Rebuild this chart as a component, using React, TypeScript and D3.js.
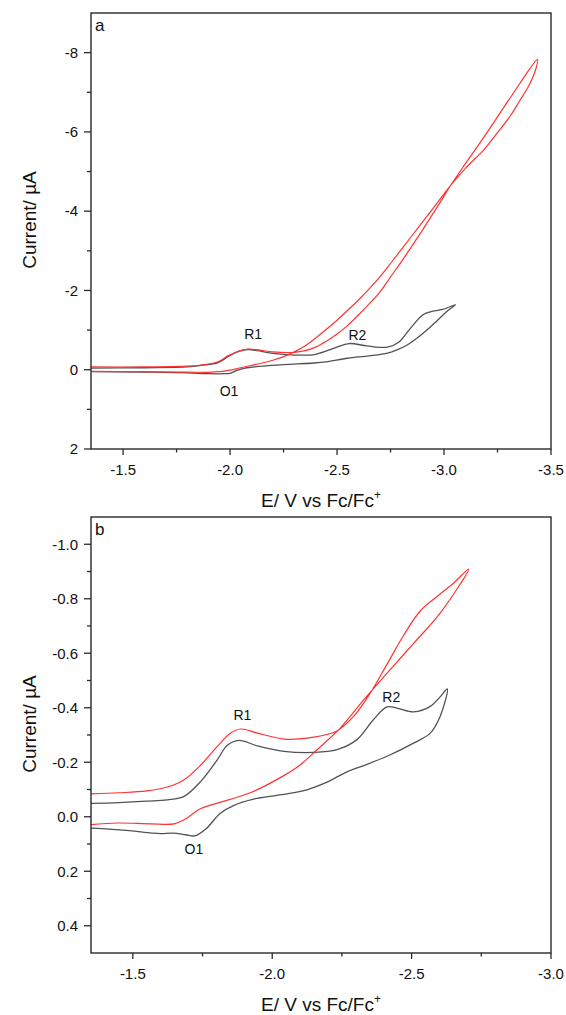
import React from 'react';
import * as d3 from 'd3';

type P = [number, number];

// ---------- Panel a data (E in V vs Fc/Fc+, current in µA) ----------
const aBlackForward: P[] = [
  [-1.35, -0.04], [-1.6, -0.05], [-1.8, -0.07], [-1.866, -0.11], [-1.944, -0.18], [-1.99, -0.33],
  [-2.04, -0.46], [-2.084, -0.51], [-2.13, -0.48], [-2.2, -0.41], [-2.3, -0.37], [-2.4, -0.39],
  [-2.49, -0.55], [-2.556, -0.66], [-2.64, -0.6], [-2.736, -0.57], [-2.79, -0.7], [-2.836, -1.0],
  [-2.9, -1.38], [-2.936, -1.46], [-2.994, -1.52], [-3.054, -1.64],
];
const aBlackReverse: P[] = [
  [-3.054, -1.64], [-3.02, -1.5], [-2.97, -1.25], [-2.92, -1.0], [-2.87, -0.78], [-2.83, -0.63],
  [-2.78, -0.5], [-2.736, -0.42], [-2.65, -0.35], [-2.549, -0.29], [-2.45, -0.2], [-2.393, -0.17],
  [-2.25, -0.13], [-2.15, -0.09], [-2.07, -0.04], [-2.03, 0.02], [-2.0, 0.09], [-1.975, 0.1],
  [-1.9, 0.1], [-1.8, 0.08], [-1.6, 0.06], [-1.35, 0.05],
];
const aRedForward: P[] = [
  [-1.35, -0.07], [-1.6, -0.07], [-1.8, -0.09], [-1.866, -0.12], [-1.944, -0.2], [-1.99, -0.35],
  [-2.04, -0.47], [-2.084, -0.52], [-2.13, -0.5], [-2.2, -0.45], [-2.3, -0.44], [-2.35, -0.48],
  [-2.4, -0.57], [-2.45, -0.72], [-2.5, -0.9], [-2.55, -1.12], [-2.6, -1.38], [-2.65, -1.66],
  [-2.7, -1.96], [-2.75, -2.34], [-2.8, -2.72], [-2.85, -3.12], [-2.9, -3.53], [-2.95, -3.95],
  [-3.0, -4.38], [-3.032, -4.66], [-3.1, -5.2], [-3.188, -5.88], [-3.312, -6.88], [-3.437, -7.83],
];
const aRedReverse: P[] = [
  [-3.437, -7.83], [-3.43, -7.6], [-3.415, -7.38], [-3.39, -7.1], [-3.353, -6.78], [-3.312, -6.42],
  [-3.25, -5.98], [-3.188, -5.56], [-3.1, -5.08], [-3.032, -4.66], [-2.95, -4.08], [-2.85, -3.38],
  [-2.75, -2.68], [-2.7, -2.34], [-2.65, -2.04], [-2.6, -1.76], [-2.55, -1.5], [-2.5, -1.25],
  [-2.45, -1.02], [-2.4, -0.8], [-2.35, -0.6], [-2.3, -0.45], [-2.25, -0.33], [-2.2, -0.24],
  [-2.15, -0.17], [-2.1, -0.11], [-2.05, -0.05], [-2.0, 0.01], [-1.95, 0.05], [-1.9, 0.065],
  [-1.8, 0.06], [-1.6, 0.05], [-1.35, 0.04],
];

// ---------- Panel b data ----------
const bBlackForward: P[] = [
  [-1.35, -0.049], [-1.45, -0.052], [-1.55, -0.057], [-1.624, -0.062], [-1.684, -0.075],
  [-1.744, -0.13], [-1.803, -0.209], [-1.839, -0.262], [-1.881, -0.28], [-1.947, -0.26],
  [-2.043, -0.24], [-2.148, -0.236], [-2.232, -0.246], [-2.304, -0.283], [-2.363, -0.356],
  [-2.412, -0.403], [-2.45, -0.398], [-2.507, -0.385], [-2.567, -0.405], [-2.603, -0.441],
  [-2.628, -0.469],
];
const bBlackReverse: P[] = [
  [-2.628, -0.469], [-2.603, -0.37], [-2.567, -0.307], [-2.507, -0.27], [-2.412, -0.222],
  [-2.328, -0.188], [-2.268, -0.165], [-2.19, -0.124], [-2.125, -0.099], [-2.034, -0.081],
  [-1.93, -0.064], [-1.863, -0.042], [-1.814, -0.013], [-1.762, 0.045], [-1.723, 0.07],
  [-1.69, 0.066], [-1.645, 0.06], [-1.6, 0.062], [-1.567, 0.06], [-1.476, 0.05], [-1.35, 0.042],
];
const bRedForward: P[] = [
  [-1.35, -0.084], [-1.45, -0.088], [-1.55, -0.095], [-1.624, -0.109], [-1.684, -0.136],
  [-1.744, -0.19], [-1.803, -0.258], [-1.851, -0.307], [-1.887, -0.322], [-1.947, -0.307],
  [-2.043, -0.285], [-2.148, -0.292], [-2.232, -0.315], [-2.292, -0.368], [-2.352, -0.454],
  [-2.412, -0.56], [-2.471, -0.665], [-2.531, -0.755], [-2.591, -0.808], [-2.651, -0.858],
  [-2.705, -0.909],
];
const bRedReverse: P[] = [
  [-2.705, -0.909], [-2.603, -0.748], [-2.508, -0.637], [-2.412, -0.527], [-2.328, -0.429],
  [-2.244, -0.325], [-2.16, -0.245], [-2.1, -0.19], [-2.04, -0.15], [-1.921, -0.088],
  [-1.803, -0.05], [-1.744, -0.03], [-1.684, 0.011], [-1.648, 0.026], [-1.564, 0.026],
  [-1.444, 0.023], [-1.35, 0.029],
];

// ---------- Ticks ----------
const aXMajor = [-1.5, -2.0, -2.5, -3.0, -3.5];
const aXMinor = [-1.75, -2.25, -2.75, -3.25];
const aYMajor = [-8, -6, -4, -2, 0, 2];
const aYMinor = [-7, -5, -3, -1, 1];
const bXMajor = [-1.5, -2.0, -2.5, -3.0];
const bXMinor = [-1.75, -2.25, -2.75];
const bYMajor = [-1.0, -0.8, -0.6, -0.4, -0.2, 0.0, 0.2, 0.4];
const bYMinor = [-0.9, -0.7, -0.5, -0.3, -0.1, 0.1, 0.3];

// ---------- Peak labels (anchor = text baseline centre, in data units) ----------
const aPeakLabels: { t: string; e: number; i: number }[] = [
  { t: 'R1', e: -2.108, i: -0.78 },
  { t: 'R2', e: -2.595, i: -0.74 },
  { t: 'O1', e: -1.995, i: 0.675 },
];
const bPeakLabels: { t: string; e: number; i: number }[] = [
  { t: 'R1', e: -1.893, i: -0.355 },
  { t: 'R2', e: -2.427, i: -0.421 },
  { t: 'O1', e: -1.719, i: 0.137 },
];

const FONT = "'Liberation Sans', Arial, Helvetica, sans-serif";
const RED = '#ff3333';
const GRAY = '#525252';
const AXIS = '#2a2a2a';
const L = 91;
const R = 551;

interface PanelProps {
  id: string;
  letter: string;
  xDomain: [number, number];
  yDomain: [number, number];
  top: number;
  bottom: number;
  xMajor: number[];
  xMinor: number[];
  yMajor: number[];
  yMinor: number[];
  yFmt: (v: number) => string;
  black: P[];
  red: P[];
  peaks: { t: string; e: number; i: number }[];
}

function Panel(p: PanelProps) {
  const x = d3.scaleLinear().domain(p.xDomain).range([L, R]);
  const y = d3.scaleLinear().domain(p.yDomain).range([p.top, p.bottom]);
  const line = d3
    .line<P>()
    .x((d) => x(d[0]))
    .y((d) => y(d[1]))
    .curve(d3.curveCatmullRom.alpha(0.5));
  const midY = (p.top + p.bottom) / 2 - 11;
  return (
    <g>
      <defs>
        <clipPath id={`clip-${p.id}`}>
          <rect x={L} y={p.top} width={R - L} height={p.bottom - p.top} />
        </clipPath>
      </defs>
      <g clipPath={`url(#clip-${p.id})`}>
        <path d={line(p.black) || ''} fill="none" stroke={GRAY} strokeWidth={1.3} />
        <path d={line(p.red) || ''} fill="none" stroke={RED} strokeWidth={1.2} />
      </g>
      <rect x={L} y={p.top} width={R - L} height={p.bottom - p.top} fill="none" stroke={AXIS} strokeWidth={1.4} />
      {p.xMajor.map((v) => (
        <g key={`xm${v}`}>
          <line x1={x(v)} x2={x(v)} y1={p.bottom} y2={p.bottom + 6} stroke={AXIS} strokeWidth={1.3} />
          <text x={x(v)} y={p.bottom + 26} textAnchor="middle" fontSize={15} fontFamily={FONT} fill="#111">
            {v.toFixed(1)}
          </text>
        </g>
      ))}
      {p.xMinor.map((v) => (
        <line key={`xn${v}`} x1={x(v)} x2={x(v)} y1={p.bottom} y2={p.bottom + 3.5} stroke={AXIS} strokeWidth={1.3} />
      ))}
      {p.yMajor.map((v) => (
        <g key={`ym${v}`}>
          <line x1={L - 7} x2={L} y1={y(v)} y2={y(v)} stroke={AXIS} strokeWidth={1.3} />
          <text x={L - 13} y={y(v) + 5.3} textAnchor="end" fontSize={15} fontFamily={FONT} fill="#111">
            {p.yFmt(v)}
          </text>
        </g>
      ))}
      {p.yMinor.map((v) => (
        <line key={`yn${v}`} x1={L - 4} x2={L} y1={y(v)} y2={y(v)} stroke={AXIS} strokeWidth={1.3} />
      ))}
      {p.peaks.map((k) => (
        <text key={k.t} x={x(k.e)} y={y(k.i)} textAnchor="middle" fontSize={14} fontFamily={FONT} fill="#111">
          {k.t}
        </text>
      ))}
      <text x={L + 4} y={p.top + 18} fontSize={17} fontFamily={FONT} fill="#111">
        {p.letter}
      </text>
      <text x={(L + R) / 2} y={p.bottom + 58} textAnchor="middle" fontSize={19} fontFamily={FONT} fill="#111">
        E/ V vs Fc/Fc
        <tspan fontSize={12} dy={-8}>+</tspan>
      </text>
      <text
        transform={`translate(36,${midY}) rotate(-90)`}
        textAnchor="middle"
        fontSize={19}
        fontFamily={FONT}
        fill="#111"
      >
        Current/ µA
      </text>
    </g>
  );
}

export default function App() {
  const aBlack = aBlackForward.concat(aBlackReverse.slice(1));
  const aRed = aRedForward.concat(aRedReverse.slice(1));
  const bBlack = bBlackForward.concat(bBlackReverse.slice(1));
  const bRed = bRedForward.concat(bRedReverse.slice(1));
  const fmtInt = (v: number) => String(v);
  const fmt1 = (v: number) => v.toFixed(1);
  return (
    <svg
      width={566}
      height={1015}
      style={{ position: 'absolute', left: 0, top: 0, background: '#fff' }}
    >
      <rect x={0} y={0} width={566} height={1015} fill="#fff" />
      <Panel
        id="a"
        letter="a"
        xDomain={[-1.35, -3.5]}
        yDomain={[-9, 2]}
        top={13}
        bottom={449}
        xMajor={aXMajor}
        xMinor={aXMinor}
        yMajor={aYMajor}
        yMinor={aYMinor}
        yFmt={fmtInt}
        black={aBlack}
        red={aRed}
        peaks={aPeakLabels}
      />
      <Panel
        id="b"
        letter="b"
        xDomain={[-1.35, -3.0]}
        yDomain={[-1.1, 0.5]}
        top={517}
        bottom={953}
        xMajor={bXMajor}
        xMinor={bXMinor}
        yMajor={bYMajor}
        yMinor={bYMinor}
        yFmt={fmt1}
        black={bBlack}
        red={bRed}
        peaks={bPeakLabels}
      />
    </svg>
  );
}
